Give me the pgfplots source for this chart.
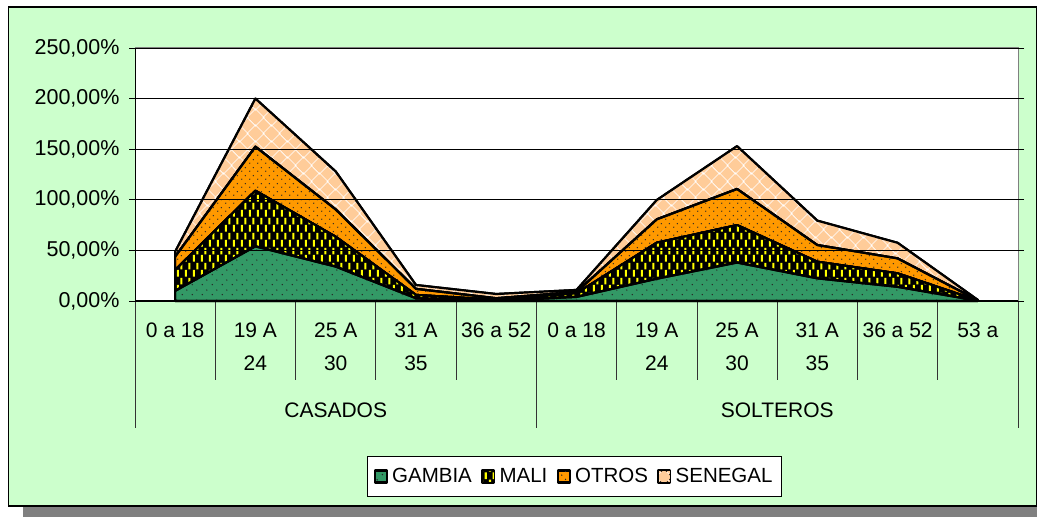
\documentclass[border=0pt]{standalone}
\usepackage{fontspec}
\setmainfont{Liberation Sans}
\usepackage{pgfplots}
\pgfplotsset{compat=1.18}
\usetikzlibrary{patterns}

\definecolor{bgg}{HTML}{CCFFCC}
\definecolor{gambia}{HTML}{339966}
\definecolor{otros}{HTML}{FF9900}
\definecolor{seneg}{HTML}{FFCC99}
\definecolor{shadowg}{HTML}{808080}

\pgfdeclarepatternformonly{sdots}{\pgfpointorigin}{\pgfpoint{8bp}{8bp}}{\pgfpoint{8bp}{8bp}}{%
  \pgfpathcircle{\pgfpoint{2bp}{2bp}}{0.8bp}%
  \pgfpathcircle{\pgfpoint{6bp}{6bp}}{0.8bp}%
  \pgfusepath{fill}}
\pgfdeclarepatternformonly{gdots}{\pgfpointorigin}{\pgfpoint{10bp}{10bp}}{\pgfpoint{10bp}{10bp}}{%
  \pgfpathcircle{\pgfpoint{2.5bp}{2.5bp}}{0.8bp}%
  \pgfpathcircle{\pgfpoint{7.5bp}{7.5bp}}{0.8bp}%
  \pgfusepath{fill}}
\pgfdeclarepatternformonly{ydash}{\pgfpointorigin}{\pgfpoint{8bp}{15bp}}{\pgfpoint{8bp}{15bp}}{%
  \pgfpathrectangle{\pgfpoint{1bp}{0.5bp}}{\pgfpoint{2.2bp}{7bp}}%
  \pgfpathrectangle{\pgfpoint{5bp}{8bp}}{\pgfpoint{2.2bp}{7bp}}%
  \pgfusepath{fill}}
\newcommand\diamondat[2]{%
  \pgfpathmoveto{\pgfpoint{#1bp-7.3bp}{#2bp}}%
  \pgfpathlineto{\pgfpoint{#1bp}{#2bp+7.3bp}}%
  \pgfpathlineto{\pgfpoint{#1bp+7.3bp}{#2bp}}%
  \pgfpathlineto{\pgfpoint{#1bp}{#2bp-7.3bp}}%
  \pgfpathclose}
\pgfdeclarepatternformonly{diam}{\pgfpointorigin}{\pgfpoint{16bp}{16bp}}{\pgfpoint{16bp}{16bp}}{%
  \diamondat{0}{0}\diamondat{16}{0}\diamondat{0}{16}\diamondat{16}{16}\diamondat{8}{8}%
  \pgfusepath{fill}}

\begin{document}
\begin{tikzpicture}[x=1bp,y=1bp]
\useasboundingbox (0,0) rectangle (1037,517);
% shadow and background
\fill[shadowg] (23,0) rectangle (1037,500);
\filldraw[fill=bgg, draw=black, line width=1.2bp] (8.5,11) rectangle (1036.4,510);
\begin{axis}[
  at={(135bp,216bp)}, anchor=south west,
  scale only axis, width=883bp, height=253bp,
  xmin=-0.5, xmax=10.5, ymin=0, ymax=250,
  axis background/.style={fill=white},
  axis line style={draw=none},
  xtick={0,...,10},
  xticklabels={{0 a 18},{19 A\\24},{25 A\\30},{31 A\\35},{36 a 52},{0 a 18},{19 A\\24},{25 A\\30},{31 A\\35},{36 a 52},{53 a}},
  x tick style={draw=none},
  xticklabel style={font=\fontsize{21bp}{33bp}\selectfont, align=center, anchor=north, yshift=-12bp},
  ytick={0,50,100,150,200,250},
  yticklabels={{0,00\%},{50,00\%},{100,00\%},{150,00\%},{200,00\%},{250,00\%}},
  yticklabel style={font=\fontsize{21.5bp}{24bp}\selectfont, anchor=east, xshift=-6bp},
  tick align=outside, major tick length=6bp,
  y tick style={black, line width=0.8bp},
  ymajorgrids, grid style={black, line width=0.8bp},
  stack plots=y, area style,
  every axis plot post/.append style={draw=black, line width=2.2bp, line join=round},
  clip=false,
  legend columns=4,
  legend style={at={(0.4977,-0.694)}, anchor=center, draw=black, fill=white,
    font=\fontsize{20.5bp}{24bp}\selectfont, line width=0.8bp,
    /tikz/every even column/.append style={column sep=8bp},
    /tikz/every odd column/.append style={column sep=3bp},
    inner xsep=7bp, inner ysep=10bp},
  legend image code/.code={\draw[#1, line width=0.7bp] (0bp,-6bp) rectangle (12bp,6bp);},
]
\addplot[preaction={fill=gambia}, pattern=gdots, pattern color=black!85]
  coordinates {(0,10) (1,54) (2,34) (3,2.7) (4,0.5) (5,4) (6,22) (7,38) (8,22.4) (9,14) (10,0.3)} \closedcycle;
\addplot[preaction={fill=black}, pattern=ydash, pattern color=yellow]
  coordinates {(0,20.6) (1,55) (2,29.5) (3,3.3) (4,0.7) (5,3.6) (6,35.6) (7,37) (8,16.4) (9,13.3) (10,0.2)} \closedcycle;
\addplot[preaction={fill=otros}, pattern=sdots, pattern color=black!85]
  coordinates {(0,13.2) (1,43.5) (2,27) (3,6) (4,1.5) (5,1.3) (6,23.1) (7,35.7) (8,16.5) (9,14.8) (10,0.2)} \closedcycle;
\addplot[preaction={fill=white}, pattern=diam, pattern color=seneg]
  coordinates {(0,4.9) (1,47.5) (2,37.5) (3,3.8) (4,4.2) (5,2) (6,19.1) (7,42.3) (8,24.1) (9,15.4) (10,0.3)} \closedcycle;
\legend{GAMBIA,MALI,OTROS,SENEGAL}
% frame
\draw[shadowg, line width=1bp] (rel axis cs:0,1) -- (rel axis cs:1,1) -- (rel axis cs:1,0);
\draw[black, line width=1bp] (rel axis cs:0,1) -- (rel axis cs:0,0) -- (rel axis cs:1,0);
% category separators
\pgfplotsinvokeforeach{0.5,1.5,2.5,3.5,5.5,6.5,7.5,8.5,9.5}{
  \draw[black!80, line width=0.8bp] (axis cs:#1,0) -- ([yshift=-79bp]axis cs:#1,0);}
\pgfplotsinvokeforeach{-0.5,4.5,10.5}{
  \draw[black!80, line width=0.8bp] (axis cs:#1,0) -- ([yshift=-127bp]axis cs:#1,0);}
\node[font=\fontsize{21bp}{24bp}\selectfont] at ([yshift=-109bp]axis cs:2,0) {CASADOS};
\node[font=\fontsize{21bp}{24bp}\selectfont] at ([yshift=-109bp]axis cs:7.5,0) {SOLTEROS};
\end{axis}
\end{tikzpicture}
\end{document}
